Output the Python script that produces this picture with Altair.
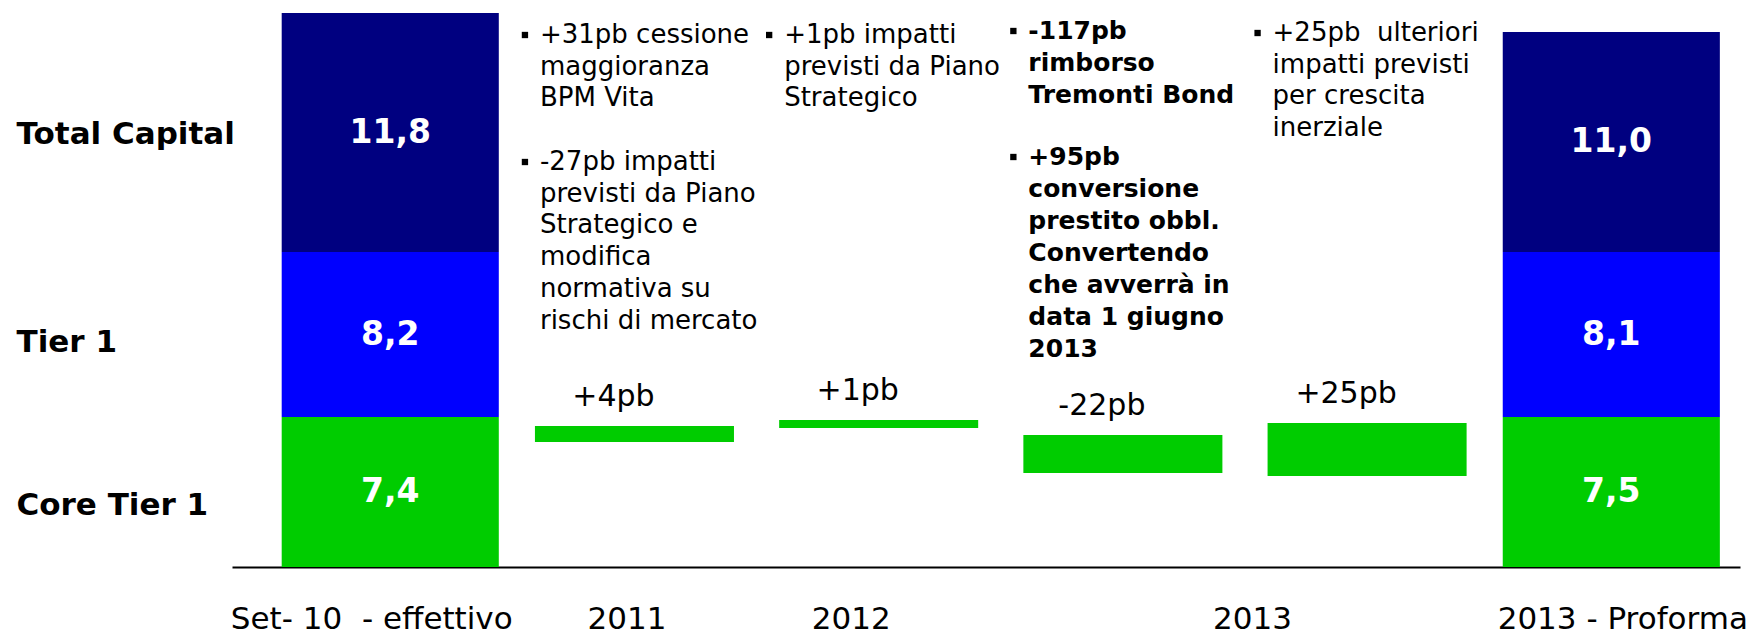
import altair as alt
import pandas as pd

# ---------------- data ----------------
x_labels = ["Set- 10\u00a0 - effettivo", "2011", "2012", "2013", "2013 - Proforma"]
x_label_slots = [0, 1, 2, 3.5, 5]

segments = ["Core Tier 1", "Tier 1", "Total Capital"]
seg_colors = ["#00CC00", "#0000FF", "#000080"]

# stacked total bars (drawn heights in chart units, as in the picture)
start_slot = 0
start_tops = [1.50, 3.15, 5.54]
start_values = ["7,4", "8,2", "11,8"]
end_slot = 5
end_tops = [1.50, 3.15, 5.35]
end_values = ["7,5", "8,1", "11,0"]

# floating step bars of the Core Tier 1 bridge
step_slots = [1, 2, 3, 4]
step_bottoms = [1.25, 1.39, 0.94, 0.91]
step_tops = [1.41, 1.47, 1.32, 1.44]
step_labels = ["+4pb", "+1pb", "-22pb", "+25pb"]

# bullet notes
note_slots = [1, 1, 2, 3, 3, 4]
note_levels = [5.24, 3.97, 5.24, 5.28, 4.02, 5.26]
note_bold = [False, False, False, True, True, False]
note_lines = [
    ["+31pb cessione", "maggioranza", "BPM Vita"],
    ["-27pb impatti", "previsti da Piano", "Strategico e", "modifica",
     "normativa su", "rischi di mercato"],
    ["+1pb impatti", "previsti da Piano", "Strategico"],
    ["-117pb", "rimborso", "Tremonti Bond"],
    ["+95pb", "conversione", "prestito obbl.", "Convertendo",
     "che avverrà in", "data 1 giugno", "2013"],
    ["+25pb\u00a0 ulteriori", "impatti previsti", "per crescita", "inerziale"],
]

# ---------------- layout constants ----------------
FONT = "DejaVu Sans"
TOTAL_W = 0.889   # bar width in slot units
STEP_W = 0.815
W, H = 1508, 559
X_LABEL_SHIFT = [-19, -8, -28, 7, 11]   # px, per x label
Y_LABEL_SHIFT = [13, 8, 2]              # px, per row label

# ---------------- frames ----------------
rows = []
for slot, tops, vals in [(start_slot, start_tops, start_values),
                         (end_slot, end_tops, end_values)]:
    bottom = 0.0
    for seg, top, v in zip(segments, tops, vals):
        rows.append(dict(slot=slot, seg=seg, bottom=bottom, top=top,
                         mid=(bottom + top) / 2, label=v,
                         x0=slot - TOTAL_W / 2, x1=slot + TOTAL_W / 2))
        bottom = top
totals = pd.DataFrame(rows)

steps = pd.DataFrame(dict(slot=step_slots, bottom=step_bottoms, top=step_tops,
                          label=step_labels))
steps["x0"] = steps["slot"] - STEP_W / 2
steps["x1"] = steps["slot"] + STEP_W / 2

notes = pd.DataFrame(dict(slot=note_slots, level=note_levels, bold=note_bold,
                          text=["\n".join(l) for l in note_lines]))
notes["xl"] = notes["slot"] - STEP_W / 2

# ---------------- scales / axes ----------------
xs = alt.Scale(domain=[-0.648, 5.527], nice=False, zero=False)
ys = alt.Scale(domain=[0, 5.59], nice=False, zero=True)

x_expr = " : ".join(
    f"datum.value == {v} ? '{t}'" for v, t in zip(x_label_slots, x_labels)
) + " : ''"
x_offset = {"condition": [{"test": f"datum.value == {v}", "value": o}
                          for v, o in zip(x_label_slots, X_LABEL_SHIFT)],
            "value": 0}
x_axis = alt.Axis(values=x_label_slots, labelExpr=x_expr, title=None,
                  ticks=False, tickSize=0, grid=False, domainColor="black",
                  domainWidth=2, labelFont=FONT, labelFontSize=31,
                  labelColor="black", labelPadding=61,
                  labelBaseline="alphabetic", labelOverlap=False,
                  labelFlush=False, labelBound=False, labelLimit=0,
                  labelOffset=x_offset)

first = totals[totals.slot == start_slot]
y_vals = list(first["mid"])
y_expr = "".join(
    f"datum.value < {t} ? '{s}' : " for s, t in zip(segments, start_tops)
) + "''"
y_offset = {"condition": [{"test": f"datum.value < {t}", "value": o}
                          for t, o in zip(start_tops, Y_LABEL_SHIFT)],
            "value": 0}
y_axis = alt.Axis(values=y_vals, labelExpr=y_expr, title=None, ticks=False,
                  tickSize=0, grid=False, domain=False, labelFont=FONT,
                  labelFontSize=31, labelFontWeight="bold", labelColor="black",
                  labelAlign="left", labelPadding=216, labelBaseline="middle",
                  labelOffset=y_offset, labelOverlap=False, labelBound=False,
                  labelLimit=0)


def X(f):
    return alt.X(f, type="quantitative", scale=xs, axis=x_axis)


def Y(f):
    return alt.Y(f, type="quantitative", scale=ys, axis=y_axis)


total_bars = alt.Chart(totals).mark_bar(opacity=1).encode(
    x=X("x0"), x2="x1", y=Y("bottom"), y2="top",
    color=alt.Color("seg:N", scale=alt.Scale(domain=segments, range=seg_colors),
                    legend=None),
)

seg_text = alt.Chart(totals).mark_text(
    font=FONT, fontSize=33, fontWeight="bold", color="white",
    baseline="middle", align="center",
).encode(x=X("slot"), y=Y("mid"), text="label:N")

step_bars = alt.Chart(steps).mark_bar(color=seg_colors[0], opacity=1).encode(
    x=X("x0"), x2="x1", y=Y("bottom"), y2="top")

step_text = alt.Chart(steps).mark_text(
    font=FONT, fontSize=30, color="black", baseline="alphabetic",
    align="center", dx=-21, dy=-20,
).encode(x=X("slot"), y=Y("top"), text="label:N")

notes_reg = alt.Chart(notes[~notes.bold]).mark_text(
    font=FONT, fontSize=26, color="black", align="left", dx=5,
    baseline="alphabetic", lineBreak="\n", lineHeight=31.7,
).encode(x=X("xl"), y=Y("level"), text="text:N")

notes_bold = alt.Chart(notes[notes.bold]).mark_text(
    font=FONT, fontSize=25, fontWeight="bold", color="black", align="left",
    dx=5, baseline="alphabetic", lineBreak="\n", lineHeight=32,
).encode(x=X("xl"), y=Y("level"), text="text:N")

bullets = alt.Chart(notes).mark_square(size=40, color="black", opacity=1,
                                       filled=True).encode(
    x=X("xl"), y=Y("level"), xOffset=alt.value(-10), yOffset=alt.value(-8))

chart = alt.layer(
    total_bars, step_bars, seg_text, step_text, notes_reg, notes_bold, bullets
).properties(
    width=W, height=H,
    padding={"left": 224, "top": 0, "right": 11, "bottom": 69},
    autosize=alt.AutoSizeParams(type="none"),
    background="white",
).configure_view(stroke=None)

chart.save("out.html", embed_options={"renderer": "svg", "actions": False})
